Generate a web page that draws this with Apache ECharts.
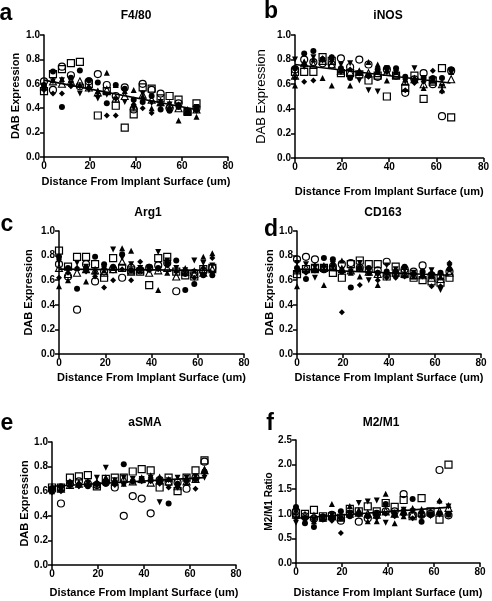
<!DOCTYPE html>
<html><head><meta charset="utf-8">
<script src="https://cdn.jsdelivr.net/npm/echarts@6/dist/echarts.min.js"></script>
<style>html,body{margin:0;padding:0;background:#fff}#c{width:492px;height:601px}</style>
</head><body><div id="c"></div>
<script>
// x positions (um)
const X = [0,3.9,7.8,11.7,15.6,19.5,23.4,27.3,31.2,35.1,39,42.9,46.8,50.7,54.6,58.5,62.4,66.3];
const xTicks = [0,20,40,60,80];

// Panel a: F4/80
const A_fc = [0.59,0.70,0.41,0.65,0.71,0.63,0.61,0.44,0.59,0.56,0.47,0.45,0.50,0.39,0.38,0.41,0.36,0.40];
const A_oc = [0.62,0.55,0.74,0.67,0.58,0.62,0.68,0.59,0.50,0.57,0.39,0.60,0.55,0.52,0.40,0.44,0.37,0.40];
const A_os = [0.54,0.68,0.72,0.77,0.78,0.60,0.34,0.54,0.42,0.24,0.35,0.57,0.56,0.48,0.50,0.47,0.37,0.44];
const A_ft = [0.57,0.63,0.64,0.60,0.59,0.58,0.54,0.69,0.59,0.54,0.55,0.50,0.40,0.44,0.41,0.30,0.38,0.33];
const A_ot = [0.58,0.62,0.60,0.62,0.62,0.57,0.53,0.55,0.48,0.50,0.42,0.51,0.47,0.45,0.43,0.40,0.38,0.39];
const A_it = [0.56,0.62,0.63,0.60,0.52,0.55,0.48,0.51,0.47,0.45,0.40,0.52,0.44,0.45,0.43,0.42,0.37,0.41];
const A_fd = [0.55,0.52,0.52,0.58,0.58,0.56,0.50,0.34,0.34,0.55,0.43,0.40,0.36,0.43,0.40,0.43,0.37,0.38];
const A_fit = [0.63,0.39];

// Panel b: iNOS
const B_fc = [0.73,0.85,0.87,0.80,0.82,0.73,0.65,0.69,0.67,0.72,0.73,0.73,0.66,0.63,0.65,0.65,0.65,0.72];
const B_oc = [0.72,0.80,0.78,0.77,0.76,0.81,0.74,0.80,0.76,0.66,0.72,0.67,0.53,0.64,0.69,0.60,0.34,0.71];
const B_os = [0.70,0.70,0.70,0.82,0.79,0.69,0.69,0.68,0.63,0.67,0.50,0.67,0.57,0.67,0.48,0.63,0.73,0.33];
const B_ft = [0.59,0.78,0.80,0.65,0.59,0.72,0.59,0.70,0.78,0.76,0.63,0.70,0.64,0.65,0.57,0.63,0.55,0.70];
const B_ot = [0.67,0.77,0.76,0.79,0.76,0.71,0.70,0.70,0.69,0.69,0.70,0.68,0.62,0.64,0.60,0.62,0.60,0.64];
const B_it = [0.80,0.74,0.82,0.79,0.78,0.76,0.77,0.63,0.55,0.54,0.73,0.71,0.62,0.73,0.65,0.64,0.58,0.71];
const B_fd = [0.65,0.62,0.63,0.81,0.82,0.70,0.72,0.70,0.66,0.70,0.70,0.71,0.55,0.61,0.62,0.71,0.54,0.72];
const B_fit = [0.76,0.61];

// Panel c: Arg1
const C_fc = [0.79,0.70,0.53,0.70,0.79,0.73,0.71,0.81,0.68,0.69,0.71,0.70,0.74,0.76,0.52,0.57,0.64,0.64];
const C_oc = [0.73,0.63,0.36,0.73,0.59,0.67,0.69,0.62,0.70,0.68,0.70,0.72,0.74,0.51,0.66,0.66,0.67,0.70];
const C_os = [0.84,0.71,0.79,0.79,0.73,0.62,0.78,0.70,0.68,0.67,0.56,0.78,0.79,0.67,0.64,0.63,0.69,0.70];
const C_ft = [0.55,0.60,0.70,0.59,0.67,0.68,0.70,0.86,0.84,0.70,0.70,0.52,0.66,0.68,0.70,0.68,0.79,0.82];
const C_ot = [0.70,0.65,0.66,0.69,0.68,0.66,0.69,0.75,0.67,0.69,0.66,0.68,0.70,0.63,0.67,0.65,0.66,0.69];
const C_it = [0.75,0.68,0.74,0.71,0.67,0.69,0.85,0.78,0.73,0.70,0.69,0.83,0.76,0.70,0.68,0.76,0.74,0.72];
const C_fd = [0.62,0.66,0.70,0.67,0.63,0.54,0.60,0.69,0.60,0.75,0.68,0.69,0.72,0.67,0.65,0.62,0.70,0.78];
const C_fit = [0.69,0.68];

// Panel d: CD163
const D_fc = [0.70,0.61,0.68,0.78,0.77,0.67,0.54,0.70,0.70,0.66,0.67,0.67,0.71,0.65,0.67,0.64,0.66,0.69];
const D_oc = [0.77,0.79,0.77,0.69,0.71,0.73,0.74,0.70,0.68,0.68,0.75,0.65,0.69,0.67,0.72,0.64,0.63,0.67];
const D_os = [0.65,0.69,0.70,0.70,0.66,0.62,0.73,0.76,0.73,0.73,0.63,0.71,0.66,0.62,0.60,0.59,0.58,0.62];
const D_ft = [0.55,0.68,0.69,0.56,0.74,0.76,0.66,0.63,0.66,0.56,0.66,0.65,0.64,0.63,0.64,0.67,0.63,0.70];
const D_ot = [0.68,0.70,0.69,0.71,0.72,0.69,0.68,0.70,0.67,0.65,0.66,0.66,0.65,0.64,0.64,0.62,0.61,0.66];
const D_it = [0.74,0.73,0.62,0.70,0.70,0.68,0.67,0.74,0.60,0.64,0.72,0.69,0.68,0.66,0.64,0.68,0.52,0.71];
const D_fd = [0.67,0.66,0.72,0.68,0.75,0.34,0.67,0.56,0.66,0.60,0.62,0.62,0.63,0.65,0.63,0.55,0.55,0.74];
const D_fit = [0.69,0.64];

// Panel e: aSMA
const E_fc = [0.62,0.64,0.67,0.65,0.64,0.66,0.66,0.67,0.82,0.68,0.70,0.69,0.68,0.50,0.66,0.69,0.70,0.76];
const E_oc = [0.61,0.50,0.66,0.68,0.66,0.65,0.67,0.63,0.40,0.56,0.54,0.42,0.69,0.67,0.67,0.62,0.71,0.84];
const E_os = [0.63,0.63,0.71,0.72,0.73,0.64,0.70,0.71,0.71,0.76,0.78,0.77,0.63,0.71,0.60,0.71,0.77,0.85];
const E_ft = [0.60,0.62,0.68,0.67,0.66,0.68,0.71,0.69,0.66,0.69,0.69,0.73,0.72,0.70,0.66,0.67,0.71,0.78];
const E_ot = [0.63,0.62,0.65,0.66,0.67,0.66,0.70,0.68,0.70,0.68,0.70,0.67,0.69,0.68,0.64,0.68,0.70,0.77];
const E_it = [0.62,0.61,0.66,0.64,0.67,0.71,0.79,0.69,0.71,0.70,0.70,0.71,0.51,0.69,0.71,0.71,0.72,0.71];
const E_fd = [0.59,0.60,0.64,0.64,0.65,0.65,0.68,0.65,0.66,0.68,0.68,0.68,0.66,0.63,0.63,0.69,0.62,0.75];
const E_fit = [0.64,0.71];

// Panel f: M2/M1
const F_fc = [1.14,0.81,0.73,0.95,0.92,1.05,0.95,1.00,0.95,1.00,1.20,0.98,1.00,1.30,0.84,0.98,1.01,0.98];
const F_oc = [1.05,0.95,0.90,0.92,0.98,0.86,1.00,0.84,0.91,1.00,1.05,1.05,1.40,0.98,0.98,1.00,1.89,0.97];
const F_os = [1.01,1.00,1.08,0.95,0.95,0.92,1.10,1.05,1.15,1.05,1.22,1.14,1.28,0.95,1.32,1.05,0.88,2.00];
const F_ft = [1.08,0.95,0.85,0.90,1.20,0.92,1.16,1.08,0.85,0.85,1.41,0.81,0.95,1.12,1.10,1.00,1.27,1.18];
const F_ot = [0.98,0.97,0.95,0.92,0.95,0.94,1.00,1.02,1.00,0.98,1.05,1.00,1.05,1.00,1.02,1.03,1.05,1.12];
const F_it = [0.82,0.90,0.88,0.92,0.97,0.90,1.02,1.22,1.25,1.27,0.82,0.98,1.08,1.05,0.98,0.95,0.98,1.15];
const F_fd = [0.91,0.88,0.85,0.88,0.86,0.61,0.97,0.98,0.95,0.92,1.00,0.95,1.08,0.91,0.95,0.97,1.25,1.00];
const F_fit = [0.91,1.13];
const fitX = [0,66];

const titles = ['F4/80','iNOS','Arg1','CD163','aSMA','M2/M1'];
const letters = ['a','b','c','d','e','f'];
const yNames = ['DAB Expression','DAB Expression','DAB Expression','DAB Expression','DAB Expression','M2/M1 Ratio'];
const xName = 'Distance From Implant Surface (um)';

const panelData = [
  {fc:A_fc,oc:A_oc,os:A_os,ft:A_ft,ot:A_ot,it:A_it,fd:A_fd,fit:A_fit},
  {fc:B_fc,oc:B_oc,os:B_os,ft:B_ft,ot:B_ot,it:B_it,fd:B_fd,fit:B_fit},
  {fc:C_fc,oc:C_oc,os:C_os,ft:C_ft,ot:C_ot,it:C_it,fd:C_fd,fit:C_fit},
  {fc:D_fc,oc:D_oc,os:D_os,ft:D_ft,ot:D_ot,it:D_it,fd:D_fd,fit:D_fit},
  {fc:E_fc,oc:E_oc,os:E_os,ft:E_ft,ot:E_ot,it:E_it,fd:E_fd,fit:E_fit},
  {fc:F_fc,oc:F_oc,os:F_os,ft:F_ft,ot:F_ot,it:F_it,fd:F_fd,fit:F_fit}
];

// layout (styling)
const layout = [
  {grid:{left:44,top:35,width:184,height:122}, ymax:1, yint:0.2, xGap:19, yGap:23, yFont:'bold', ySize:11, title:[136,16], letter:[6,14], xSize:11},
  {grid:{left:295,top:35,width:189,height:123}, ymax:1, yint:0.2, xGap:28, yGap:27, yFont:'normal', ySize:13, title:[388,16], letter:[271,12], xSize:11},
  {grid:{left:59,top:231,width:185,height:123}, ymax:1, yint:0.2, xGap:18, yGap:25, yFont:'bold', ySize:11, title:[148,213], letter:[7,225], xSize:11},
  {grid:{left:297,top:231,width:184,height:123}, ymax:1, yint:0.2, xGap:18, yGap:19, yFont:'bold', ySize:11, title:[383,213], letter:[271,230], xSize:11},
  {grid:{left:52,top:442,width:184,height:123}, ymax:1, yint:0.2, xGap:22, yGap:19, yFont:'bold', ySize:11, title:[145,423], letter:[7,424], xSize:11},
  {grid:{left:296,top:440,width:184,height:123}, ymax:2.5, yint:0.5, xGap:24, yGap:18, yFont:'bold', ySize:10, title:[381,423], letter:[270,424], xSize:11}
];

const markers = {
  fc:{symbol:'circle', size:6, fill:'#000', border:'#000', bw:0},
  fd:{symbol:'diamond', size:6, fill:'#000', border:'#000', bw:0},
  ft:{symbol:'triangle', size:6, fill:'#000', border:'#000', bw:0},
  it:{symbol:'triangle', size:6, fill:'#000', border:'#000', bw:0, rot:180},
  ot:{symbol:'triangle', size:7, fill:'rgba(0,0,0,0)', border:'#000', bw:1.1},
  oc:{symbol:'circle', size:7, fill:'rgba(0,0,0,0)', border:'#000', bw:1.2},
  os:{symbol:'rect', size:7, fill:'rgba(0,0,0,0)', border:'#000', bw:1.2}
};
const order = ['fc','fd','ft','it','ot','oc','os'];
const FONT = 'Liberation Sans, Arial, sans-serif';

const grids=[], xAxes=[], yAxes=[], series=[], graphics=[];
layout.forEach((L,i)=>{
  grids.push(L.grid);
  xAxes.push({gridIndex:i, type:'value', min:0, max:80, interval:20,
    name:xName, nameLocation:'middle', nameGap:L.xGap,
    nameTextStyle:{fontFamily:FONT, fontWeight:'bold', fontSize:L.xSize, color:'#000'},
    axisLine:{lineStyle:{color:'#000', width:1.5}}, axisTick:{length:4, lineStyle:{color:'#000', width:1.5}},
    axisLabel:{fontFamily:FONT, fontWeight:'bold', fontSize:10, color:'#000', margin:4},
    splitLine:{show:false}});
  yAxes.push({gridIndex:i, type:'value', min:0, max:L.ymax, interval:L.yint,
    name:yNames[i], nameLocation:'middle', nameGap:L.yGap,
    nameTextStyle:{fontFamily:FONT, fontWeight:L.yFont, fontSize:L.ySize, color:'#000'},
    axisLine:{show:true, lineStyle:{color:'#000', width:1.5}}, axisTick:{show:true, length:4, lineStyle:{color:'#000', width:1.5}},
    axisLabel:{fontFamily:FONT, fontWeight:'bold', fontSize:10, color:'#000', margin:4, formatter:v=>v.toFixed(1)},
    splitLine:{show:false}});
  const P = panelData[i];
  order.forEach(k=>{
    const m = markers[k];
    series.push({type:'scatter', xAxisIndex:i, yAxisIndex:i, symbol:m.symbol, symbolSize:m.size, symbolRotate:m.rot||0,
      itemStyle:{color:m.fill, borderColor:m.border, borderWidth:m.bw, opacity:1},
      data:X.map((x,j)=>[x,P[k][j]]), silent:true, z:3});
  });
  series.push({type:'line', xAxisIndex:i, yAxisIndex:i, showSymbol:false, symbol:'none',
    lineStyle:{color:'#000', width:1.6}, data:fitX.map((x,j)=>[x,P.fit[j]]), z:6, silent:true});
  graphics.push({type:'text', style:{text:titles[i], x:L.title[0], y:L.title[1], textAlign:'center', textVerticalAlign:'middle', font:'bold 12px '+FONT, fill:'#000'}});
  graphics.push({type:'text', style:{text:letters[i], x:L.letter[0], y:L.letter[1], textAlign:'center', textVerticalAlign:'middle', font:'bold 23px '+FONT, fill:'#000'}});
});

const chart = echarts.init(document.getElementById('c'), null, {renderer:'canvas'});
chart.setOption({animation:false, backgroundColor:'#fff', grid:grids, xAxis:xAxes, yAxis:yAxes, series:series, graphic:graphics});
</script></body></html>
